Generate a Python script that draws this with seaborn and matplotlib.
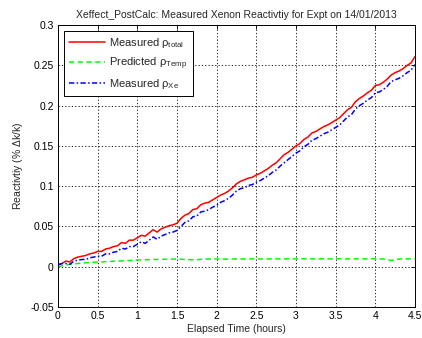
import numpy as np
import pandas as pd
import matplotlib
matplotlib.use("Agg")
import matplotlib.pyplot as plt
import seaborn as sns

# Elapsed time grid (hours)
time_h = [round(0.05 * i, 2) for i in range(91)]

rho_total = [
    0.003, 0.004, 0.007, 0.006, 0.010, 0.012, 0.013, 0.014, 0.016, 0.017,
    0.019, 0.019, 0.022, 0.023, 0.025, 0.026, 0.030, 0.029, 0.033, 0.033,
    0.036, 0.039, 0.038, 0.042, 0.046, 0.043, 0.047, 0.049, 0.051, 0.052,
    0.054, 0.060, 0.064, 0.066, 0.071, 0.072, 0.077, 0.079, 0.080, 0.083,
    0.086, 0.089, 0.091, 0.094, 0.098, 0.103, 0.106, 0.108, 0.110, 0.111,
    0.114, 0.116, 0.119, 0.122, 0.126, 0.129, 0.134, 0.139, 0.142, 0.146,
    0.150, 0.153, 0.158, 0.161, 0.166, 0.168, 0.171, 0.174, 0.176, 0.179,
    0.182, 0.185, 0.190, 0.195, 0.198, 0.205, 0.209, 0.212, 0.216, 0.219,
    0.225, 0.226, 0.229, 0.233, 0.238, 0.241, 0.243, 0.246, 0.250, 0.253,
    0.261,
]

rho_temp = [
    0.0000, 0.0010, 0.0020, 0.0030, 0.0035, 0.0040, 0.0045, 0.0050, 0.0052, 0.0055,
    0.0058, 0.0060, 0.0063, 0.0065, 0.0068, 0.0070, 0.0072, 0.0074, 0.0077, 0.0080,
    0.0083, 0.0085, 0.0087, 0.0088, 0.0090, 0.0091, 0.0092, 0.0093, 0.0094, 0.0095,
    0.0096, 0.0094, 0.0090, 0.0088, 0.0086, 0.0087, 0.0092, 0.0095, 0.0096, 0.0097,
    0.0096, 0.0095, 0.0094, 0.0095, 0.0096, 0.0097, 0.0097, 0.0096, 0.0097, 0.0098,
    0.0098, 0.0097, 0.0096, 0.0097, 0.0098, 0.0098, 0.0097, 0.0098, 0.0099, 0.0098,
    0.0098, 0.0097, 0.0098, 0.0099, 0.0098, 0.0097, 0.0098, 0.0099, 0.0098, 0.0097,
    0.0098, 0.0099, 0.0098, 0.0098, 0.0097, 0.0098, 0.0099, 0.0098, 0.0097, 0.0098,
    0.0098, 0.0097, 0.0096, 0.0085, 0.0080, 0.0088, 0.0095, 0.0097, 0.0098, 0.0098,
    0.0098,
]

rho_xe = [
    0.002, 0.004, 0.004, 0.003, 0.007, 0.008, 0.009, 0.009, 0.011, 0.012,
    0.013, 0.013, 0.016, 0.016, 0.018, 0.019, 0.023, 0.022, 0.025, 0.025,
    0.028, 0.031, 0.029, 0.033, 0.037, 0.034, 0.038, 0.040, 0.042, 0.043,
    0.045, 0.050, 0.055, 0.057, 0.062, 0.063, 0.068, 0.069, 0.071, 0.074,
    0.076, 0.080, 0.082, 0.085, 0.089, 0.094, 0.097, 0.098, 0.101, 0.102,
    0.105, 0.107, 0.110, 0.113, 0.117, 0.120, 0.125, 0.129, 0.133, 0.137,
    0.141, 0.144, 0.149, 0.152, 0.157, 0.159, 0.162, 0.165, 0.167, 0.170,
    0.173, 0.176, 0.181, 0.186, 0.189, 0.196, 0.200, 0.203, 0.207, 0.210,
    0.216, 0.217, 0.220, 0.224, 0.230, 0.232, 0.234, 0.237, 0.241, 0.244,
    0.251,
]

x_ticks = [0, 0.5, 1, 1.5, 2, 2.5, 3, 3.5, 4, 4.5]
x_tick_labels = ["0", "0.5", "1", "1.5", "2", "2.5", "3", "3.5", "4", "4.5"]
y_ticks = [-0.05, 0, 0.05, 0.1, 0.15, 0.2, 0.25, 0.3]
y_tick_labels = ["-0.05", "0", "0.05", "0.1", "0.15", "0.2", "0.25", "0.3"]

labels = [
    r"Measured $\rho_{total}$",
    r"Predicted $\rho_{Temp}$",
    r"Measured $\rho_{Xe}$",
]

sns.set_style("white")
plt.rcParams["font.family"] = ["Liberation Sans", "DejaVu Sans"]
plt.rcParams["mathtext.fontset"] = "custom"
plt.rcParams["mathtext.rm"] = "Liberation Sans"
plt.rcParams["mathtext.it"] = "Liberation Sans"
plt.rcParams["mathtext.default"] = "regular"

df = pd.DataFrame({"t": time_h, "total": rho_total, "temp": rho_temp, "xe": rho_xe})

fig = plt.figure(figsize=(4.22, 3.38), dpi=100)
fig.patch.set_facecolor("white")
ax = fig.add_axes([0.1374, 0.0917, 0.846, 0.834])

sns.lineplot(data=df, x="t", y="total", ax=ax, color="#ff0000", lw=1.1,
             label=labels[0], estimator=None)
sns.lineplot(data=df, x="t", y="temp", ax=ax, color="#00ff00", lw=1.1,
             label=labels[1], estimator=None, linestyle=(0, (3.5, 2.2)))
sns.lineplot(data=df, x="t", y="xe", ax=ax, color="#0000ff", lw=1.1,
             label=labels[2], estimator=None, linestyle=(0, (3.5, 1.5, 1, 1.5)))

ax.set_xlim(0, 4.5)
ax.set_ylim(-0.05, 0.3)
ax.set_xticks(x_ticks)
ax.set_xticklabels(x_tick_labels)
ax.set_yticks(y_ticks)
ax.set_yticklabels(y_tick_labels)
ax.tick_params(direction="in", length=3, width=0.6, labelsize=7.5, colors="black",
               top=True, right=True, pad=3)
ax.grid(True, color="black", linestyle=(0, (1.5, 2.5)), linewidth=0.6)
for s in ax.spines.values():
    s.set_color("black")
    s.set_linewidth(0.7)

ax.set_xlabel("Elapsed Time (hours)", fontsize=7.5, labelpad=2)
ax.set_ylabel(r"Reactivtiy (% $\Delta$k/k)", fontsize=7.5, labelpad=4)
ax.set_title("Xeffect_PostCalc: Measured Xenon Reactivtiy for Expt on 14/01/2013",
             fontsize=7.5, pad=5)

leg = ax.legend(loc="upper left", fontsize=8, frameon=True, fancybox=False,
                edgecolor="black", framealpha=1, borderpad=0.5, labelspacing=0.45,
                handlelength=3.2, handletextpad=0.4, borderaxespad=0.5)
leg.get_frame().set_linewidth(0.7)

fig.savefig("out.png", dpi=100, facecolor="white")
